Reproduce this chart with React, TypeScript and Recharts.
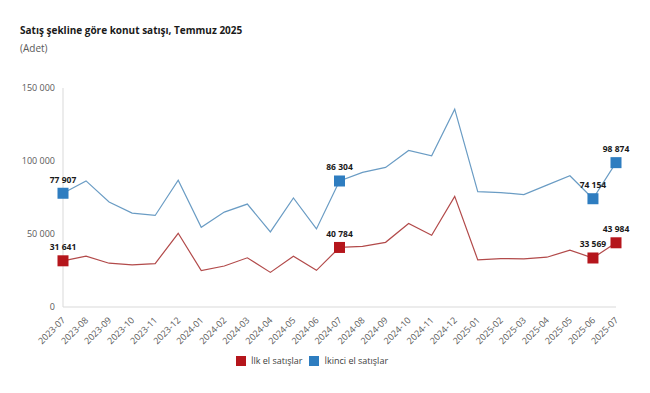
import React from "react";
import { LineChart, Line, XAxis, YAxis, Legend, CartesianGrid } from "recharts";

const months = [
  "2023-07","2023-08","2023-09","2023-10","2023-11","2023-12",
  "2024-01","2024-02","2024-03","2024-04","2024-05","2024-06",
  "2024-07","2024-08","2024-09","2024-10","2024-11","2024-12",
  "2025-01","2025-02","2025-03","2025-04","2025-05","2025-06","2025-07",
];
const ilkEl = [
  31641, 34800, 30000, 28800, 29700, 50500,
  24900, 28100, 33700, 23700, 34800, 25100,
  40784, 41500, 44300, 57200, 49100, 75800,
  32300, 33200, 33000, 34100, 38900, 33569, 43984,
];
const ikinciEl = [
  77907, 86400, 71900, 64300, 62700, 86900,
  54600, 65000, 70500, 51400, 74700, 53500,
  86304, 92200, 95600, 107200, 103500, 135500,
  79000, 78400, 77000, 83500, 89900, 74154, 98874,
];
const yTicks = [0, 50000, 100000, 150000];
const markedIdx = [0, 12, 23, 24];

const RED = "#b5161c";
const RED_LINE = "#b24a4a";
const BLUE = "#2e7dc0";
const BLUE_LINE = "#6a9cc4";
const FONT = "'Open Sans', 'Noto Sans', sans-serif";

const data = months.map((m, i) => ({ m, ilk: ilkEl[i], ikinci: ikinciEl[i] }));

const fmt = (v: number) => String(v).replace(/\B(?=(\d{3})+(?!\d))/g, " ");

const makeDot = (color: string) => (props: any) => {
  const { cx, cy, index } = props;
  if (!markedIdx.includes(index)) return <g key={`d${index}`} />;
  return <rect key={`d${index}`} x={cx - 5.5} y={cy - 5.5} width={11} height={11} fill={color} />;
};

const renderLabel = (props: any) => {
  const { x, y, index, value } = props;
  if (!markedIdx.includes(index)) return <g key={`l${index}`} />;
  return (
    <text key={`l${index}`} x={x} y={y - 14} textAnchor="middle" dominantBaseline="central"
      fontSize={8.5} fontWeight={700} fill="#1a1a1a" fontFamily={FONT}>
      {fmt(value)}
    </text>
  );
};

const XTick = (props: any) => {
  const { x, y, payload } = props;
  return (
    <g transform={`translate(${x},${y + 3})`}>
      <text textAnchor="end" transform="rotate(-45)" fontSize={9} fill="#595959" fontFamily={FONT} dy={4}>
        {payload.value}
      </text>
    </g>
  );
};

const LegendContent = () => (
  <div style={{ display: "flex", justifyContent: "center", alignItems: "center", fontFamily: FONT, fontSize: 9, color: "#404040", paddingLeft: 0 }}>
    <span style={{ width: 10, height: 10, background: RED, display: "inline-block", marginRight: 5 }} />
    <span style={{ marginRight: 7 }}>İlk el satışlar</span>
    <span style={{ width: 10, height: 10, background: BLUE, display: "inline-block", marginRight: 5 }} />
    <span>İkinci el satışlar</span>
  </div>
);

export default function App() {
  return (
    <div style={{ position: "relative", width: 650, height: 393, margin: -8, background: "#fff", fontFamily: FONT }}>
      <div style={{ position: "absolute", left: 20, top: 23, fontSize: 10, fontWeight: 700, color: "#1a1a1a" }}>
        Satış şekline göre konut satışı, Temmuz 2025
      </div>
      <div style={{ position: "absolute", left: 20, top: 41, fontSize: 10, color: "#595959" }}>(Adet)</div>
      <div style={{ position: "absolute", left: 0, top: 0 }}>
        <LineChart width={650} height={393} data={data} margin={{ top: 88, right: 34, bottom: 28, left: 8 }}>
          <CartesianGrid horizontal={false} vertical={false} />
          <XAxis dataKey="m" interval={0} tick={<XTick />} tickLine={false} axisLine={{ stroke: "#d9d9d9" }} height={45} />
          <YAxis domain={[0, 150000]} ticks={yTicks} tickFormatter={fmt} width={55} tickLine={false}
            axisLine={{ stroke: "#d9d9d9" }} tick={{ fontSize: 9, fill: "#595959", fontFamily: FONT }} />
          <Legend verticalAlign="bottom" content={<LegendContent />} wrapperStyle={{ bottom: 26 }} />
          <Line dataKey="ilk" stroke={RED_LINE} strokeWidth={1.2} dot={makeDot(RED)} activeDot={false}
            label={renderLabel} isAnimationActive={false} />
          <Line dataKey="ikinci" stroke={BLUE_LINE} strokeWidth={1.2} dot={makeDot(BLUE)} activeDot={false}
            label={renderLabel} isAnimationActive={false} />
        </LineChart>
      </div>
    </div>
  );
}
